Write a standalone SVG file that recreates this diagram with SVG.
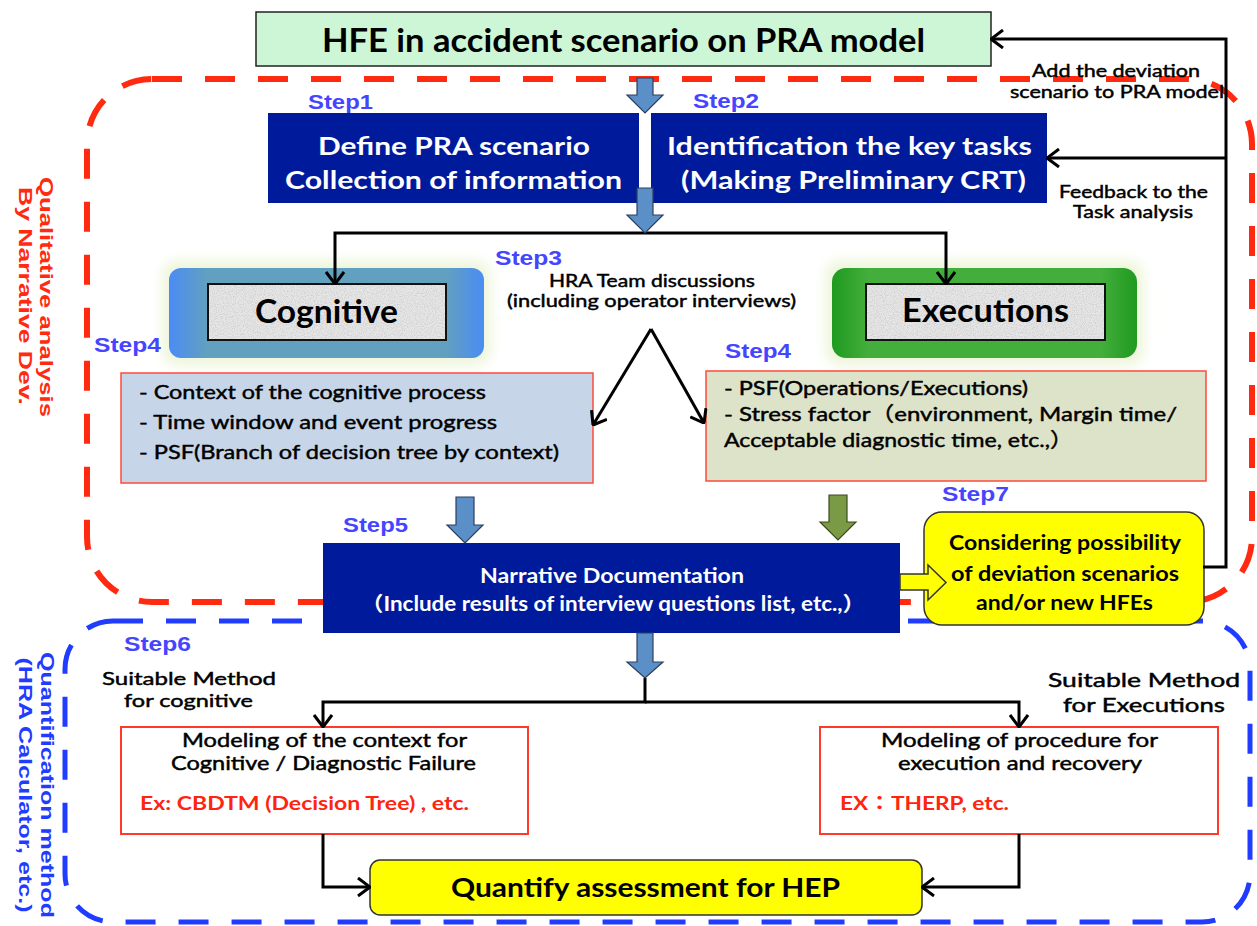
<svg xmlns="http://www.w3.org/2000/svg" width="1257" height="926" viewBox="0 0 1257 926">
<defs>
<style>
.c{font-family:Lato,"Open Sans","Noto Sans CJK JP",sans-serif;}
.b{font-weight:bold;}
.w{fill:#fff;}
.k{fill:#000;}
.sb{stroke:#000;stroke-width:0.45px;}
.r{fill:#ff2410;}
.step{font-family:"Liberation Sans",Arial,sans-serif;font-weight:bold;font-size:19.5px;fill:#4545ff;}
.vt{font-family:"Liberation Sans",Arial,sans-serif;font-weight:bold;font-size:18px;}
.ln{fill:none;stroke:#000;stroke-width:3;}
.navy{fill:#001a9c;}
.blk{fill:#5b8fc8;stroke:#2c3e5e;stroke-width:1.2;}
.grn{fill:#7a9a45;stroke:#3c4a20;stroke-width:1.2;}
.yel{fill:#ffff00;stroke:#333;stroke-width:1.5;}
.inner{fill:#e6e6e6;stroke:#111;stroke-width:2;}
</style>
<marker id="ah" viewBox="0 0 14 20" refX="13" refY="10" markerWidth="14" markerHeight="20" orient="auto" markerUnits="userSpaceOnUse">
<path d="M1,1 L13,10 L1,19" fill="none" stroke="#000" stroke-width="3"/>
</marker>
<linearGradient id="gCog" x1="0" y1="0" x2="1" y2="0">
<stop offset="0" stop-color="#4a8cf4"/>
<stop offset="0.12" stop-color="#62a0c0"/>
<stop offset="0.88" stop-color="#62a0c0"/>
<stop offset="1" stop-color="#4a8cf4"/>
</linearGradient>
<linearGradient id="gExe" x1="0" y1="0" x2="1" y2="0">
<stop offset="0" stop-color="#1f9a1f"/>
<stop offset="0.12" stop-color="#44ae3c"/>
<stop offset="0.88" stop-color="#44ae3c"/>
<stop offset="1" stop-color="#1f9a1f"/>
</linearGradient>
<filter id="glow" x="-10%" y="-20%" width="120%" height="140%">
<feGaussianBlur stdDeviation="6"/>
</filter>
<filter id="noise" x="0" y="0" width="100%" height="100%">
<feTurbulence type="fractalNoise" baseFrequency="0.9" numOctaves="2" seed="3" result="t"/>
<feColorMatrix in="t" type="matrix" values="0 0 0 0 0.55  0 0 0 0 0.55  0 0 0 0 0.55  0 0 0 -2.2 1.3" result="n"/>
<feComposite in="n" in2="SourceGraphic" operator="in"/>
</filter>
</defs>
<rect x="0" y="0" width="1257" height="926" fill="#fff"/>

<g id="regions">
<rect x="87" y="79" width="1165" height="523" rx="65" fill="none" stroke="#ff2a10" stroke-width="6" stroke-dasharray="30 23"/>
<rect x="65" y="621" width="1185" height="301" rx="48" fill="none" stroke="#1f3cff" stroke-width="5" stroke-dasharray="30 23"/>
<text class="vt" fill="#ff2a10" transform="translate(40,297) rotate(90)" text-anchor="middle" textLength="240" lengthAdjust="spacingAndGlyphs">Qualitative analysis</text>
<text class="vt" fill="#ff2a10" transform="translate(19,296) rotate(90)" text-anchor="middle" textLength="218" lengthAdjust="spacingAndGlyphs">By Narrative Dev.</text>
<text class="vt" fill="#1f3cff" style="font-size:19px" transform="translate(41,785) rotate(90)" text-anchor="middle" textLength="266" lengthAdjust="spacingAndGlyphs">Quantification method</text>
<text class="vt" fill="#1f3cff" style="font-size:19px" transform="translate(19,785) rotate(90)" text-anchor="middle" textLength="255" lengthAdjust="spacingAndGlyphs">(HRA Calculator, etc.)</text>
</g>

<g id="hfe">
<rect x="256" y="12" width="735" height="54" fill="#ccf6d6" stroke="#222" stroke-width="1.5"/>
<text class="c b k" x="623.5" y="52" font-size="33" text-anchor="middle" textLength="603" lengthAdjust="spacingAndGlyphs">HFE in accident scenario on PRA model</text>
</g>

<g id="step1">
<text class="step" x="308" y="109" textLength="65" lengthAdjust="spacingAndGlyphs">Step1</text>
<rect class="navy" x="268" y="113" width="371" height="90"/>
<text class="c b w" x="454" y="155" font-size="25" text-anchor="middle" textLength="272" lengthAdjust="spacingAndGlyphs">Define PRA scenario</text>
<text class="c b w" x="453.5" y="189" font-size="25" text-anchor="middle" textLength="337" lengthAdjust="spacingAndGlyphs">Collection of information</text>
</g>

<g id="step2">
<text class="step" x="693" y="108" textLength="66" lengthAdjust="spacingAndGlyphs">Step2</text>
<rect class="navy" x="651" y="113" width="396" height="90"/>
<text class="c b w" x="849.5" y="155" font-size="25" text-anchor="middle" textLength="365" lengthAdjust="spacingAndGlyphs">Identification the key tasks</text>
<text class="c b w" x="853.5" y="189" font-size="25" text-anchor="middle" textLength="345" lengthAdjust="spacingAndGlyphs">(Making Preliminary CRT)</text>
</g>

<g id="labels-feedback">
<text class="c k sb" x="1116" y="77" font-size="17" text-anchor="middle" textLength="168" lengthAdjust="spacingAndGlyphs">Add the deviation</text>
<text class="c k sb" x="1117" y="98" font-size="17" text-anchor="middle" textLength="214" lengthAdjust="spacingAndGlyphs">scenario to PRA model</text>
<text class="c k sb" x="1133.5" y="198" font-size="17" text-anchor="middle" textLength="149" lengthAdjust="spacingAndGlyphs">Feedback to the</text>
<text class="c k sb" x="1133" y="218" font-size="17" text-anchor="middle" textLength="120" lengthAdjust="spacingAndGlyphs">Task analysis</text>
</g>

<g id="step3">
<text class="step" x="495" y="265" textLength="67" lengthAdjust="spacingAndGlyphs">Step3</text>
<text class="c k sb" x="652" y="287" font-size="17" text-anchor="middle" textLength="206" lengthAdjust="spacingAndGlyphs">HRA Team discussions</text>
<text class="c k sb" x="651.5" y="307" font-size="17" text-anchor="middle" textLength="289" lengthAdjust="spacingAndGlyphs">(including operator interviews)</text>
</g>

<g id="cognitive">
<rect x="162" y="260" width="329" height="106" rx="16" fill="#eef6dc" filter="url(#glow)"/>
<rect x="169" y="268" width="315" height="90" rx="12" fill="url(#gCog)"/>
<rect class="inner" x="208" y="284" width="238" height="56"/>
<rect x="209" y="285" width="236" height="54" fill="#fff" filter="url(#noise)" opacity="0.8"/>
<text class="c b k" x="326.5" y="323" font-size="32" text-anchor="middle" textLength="143" lengthAdjust="spacingAndGlyphs">Cognitive</text>
</g>

<g id="executions">
<rect x="825" y="260" width="319" height="106" rx="16" fill="#eef6dc" filter="url(#glow)"/>
<rect x="832" y="268" width="305" height="90" rx="14" fill="url(#gExe)"/>
<rect class="inner" x="866" y="284" width="239" height="56"/>
<rect x="867" y="285" width="237" height="54" fill="#fff" filter="url(#noise)" opacity="0.8"/>
<text class="c b k" x="985.5" y="322" font-size="32" text-anchor="middle" textLength="167" lengthAdjust="spacingAndGlyphs">Executions</text>
</g>

<g id="psf-cognitive">
<text class="step" x="94" y="352" textLength="67" lengthAdjust="spacingAndGlyphs">Step4</text>
<rect x="121" y="373" width="472" height="110" fill="#c6d6e8" stroke="#ff4a3a" stroke-width="1.5"/>
<text class="c k sb" x="139" y="399" font-size="20" textLength="347" lengthAdjust="spacingAndGlyphs">- Context of the cognitive process</text>
<text class="c k sb" x="139" y="429" font-size="20" textLength="358" lengthAdjust="spacingAndGlyphs">- Time window and event progress</text>
<text class="c k sb" x="139" y="459" font-size="20" textLength="420" lengthAdjust="spacingAndGlyphs">- PSF(Branch of decision tree by context)</text>
</g>

<g id="psf-executions">
<text class="step" x="725" y="358" textLength="66" lengthAdjust="spacingAndGlyphs">Step4</text>
<rect x="706" y="371" width="500" height="110" fill="#dde3c9" stroke="#ff4a3a" stroke-width="1.5"/>
<text class="c k sb" x="724" y="395" font-size="20" textLength="304" lengthAdjust="spacingAndGlyphs">- PSF(Operations/Executions)</text>
<text class="c k sb" x="724" y="421" font-size="20" textLength="453" lengthAdjust="spacingAndGlyphs">- Stress factor（environment, Margin time/</text>
<text class="c k sb" x="724" y="447" font-size="20" textLength="349" lengthAdjust="spacingAndGlyphs">Acceptable diagnostic time, etc.,）</text>
</g>

<g id="narrative">
<text class="step" x="343" y="532" textLength="65" lengthAdjust="spacingAndGlyphs">Step5</text>
<rect class="navy" x="323" y="543" width="577" height="90"/>
<text class="c b w" x="612" y="583" font-size="20" text-anchor="middle" textLength="264" lengthAdjust="spacingAndGlyphs">Narrative Documentation</text>
<text class="c b w" x="613" y="611" font-size="20" text-anchor="middle" textLength="504" lengthAdjust="spacingAndGlyphs">（Include results of interview questions list, etc.,）</text>
</g>

<g id="step7">
<text class="step" x="942" y="501" textLength="67" lengthAdjust="spacingAndGlyphs">Step7</text>
<rect class="yel" x="924" y="512" width="280" height="113" rx="18"/>
<text class="c b k" x="1065" y="550" font-size="20" text-anchor="middle" textLength="232" lengthAdjust="spacingAndGlyphs">Considering possibility</text>
<text class="c b k" x="1065" y="581" font-size="20" text-anchor="middle" textLength="228" lengthAdjust="spacingAndGlyphs">of deviation scenarios</text>
<text class="c b k" x="1064.5" y="610" font-size="20" text-anchor="middle" textLength="177" lengthAdjust="spacingAndGlyphs">and/or new HFEs</text>
</g>

<g id="step6">
<text class="step" x="124" y="651" textLength="67" lengthAdjust="spacingAndGlyphs">Step6</text>
<text class="c k sb" x="189" y="685" font-size="18" text-anchor="middle" textLength="174" lengthAdjust="spacingAndGlyphs">Suitable Method</text>
<text class="c k sb" x="188.5" y="707" font-size="18" text-anchor="middle" textLength="129" lengthAdjust="spacingAndGlyphs">for cognitive</text>
<text class="c k sb" x="1144" y="687" font-size="20" text-anchor="middle" textLength="192" lengthAdjust="spacingAndGlyphs">Suitable Method</text>
<text class="c k sb" x="1144" y="712" font-size="20" text-anchor="middle" textLength="162" lengthAdjust="spacingAndGlyphs">for Executions</text>
</g>

<g id="model-cognitive">
<rect x="121" y="727" width="407" height="107" fill="#fff" stroke="#ff3a2a" stroke-width="2"/>
<text class="c k sb" x="324.5" y="747" font-size="19" text-anchor="middle" textLength="285" lengthAdjust="spacingAndGlyphs">Modeling of the context for</text>
<text class="c k sb" x="323.5" y="770" font-size="19" text-anchor="middle" textLength="305" lengthAdjust="spacingAndGlyphs">Cognitive / Diagnostic Failure</text>
<text class="c b r" x="140" y="810" font-size="19" textLength="329" lengthAdjust="spacingAndGlyphs">Ex: CBDTM (Decision Tree) , etc.</text>
</g>

<g id="model-executions">
<rect x="820" y="727" width="398" height="107" fill="#fff" stroke="#ff3a2a" stroke-width="2"/>
<text class="c k sb" x="1019.5" y="747" font-size="19" text-anchor="middle" textLength="277" lengthAdjust="spacingAndGlyphs">Modeling of procedure for</text>
<text class="c k sb" x="1020" y="770" font-size="19" text-anchor="middle" textLength="244" lengthAdjust="spacingAndGlyphs">execution and recovery</text>
<text class="c b r" x="840" y="810" font-size="19" textLength="169" lengthAdjust="spacingAndGlyphs">EX：THERP, etc.</text>
</g>

<g id="quantify">
<rect class="yel" x="370" y="860" width="552" height="55" rx="10"/>
<text class="c b k" x="645.5" y="897" font-size="26" text-anchor="middle" textLength="389" lengthAdjust="spacingAndGlyphs">Quantify assessment for HEP</text>
</g>

<g id="connectors">
<path class="ln" d="M645,233 H335 V284" marker-end="url(#ah)"/>
<path class="ln" d="M645,233 H946 V284" marker-end="url(#ah)"/>
<path class="ln" d="M651,329 L704,423" marker-end="url(#ah)"/>
<path class="ln" d="M651,329 L593,425" marker-end="url(#ah)"/>
<path class="ln" d="M1203,567 H1226 V39 H991" marker-end="url(#ah)"/>
<path class="ln" d="M1226,158 H1047" marker-end="url(#ah)"/>
<path class="ln" d="M645,678 V702 H323 V727" marker-end="url(#ah)"/>
<path class="ln" d="M645,702 H1019 V727" marker-end="url(#ah)"/>
<path class="ln" d="M323,834 V887 H370" marker-end="url(#ah)"/>
<path class="ln" d="M1019,834 V887 H922" marker-end="url(#ah)"/>
<path class="blk" d="M637,78 H653 V95 H663 L645,113 L627,95 H637 Z"/>
<path class="blk" d="M637,188 H653 V215 H663 L645,233 L627,215 H637 Z"/>
<path class="blk" d="M456,497 H474 V525 H483 L465,543 L447,525 H456 Z"/>
<path class="grn" d="M829,495 H847 V522 H856 L838,540 L820,522 H829 Z"/>
<path class="blk" d="M637,633 H653 V662 H663 L645,678 L627,662 H637 Z"/>
<path class="yel" d="M900,574 H928 V565 L946,582.5 L928,600 V590 H900 Z"/>
</g>
</svg>
